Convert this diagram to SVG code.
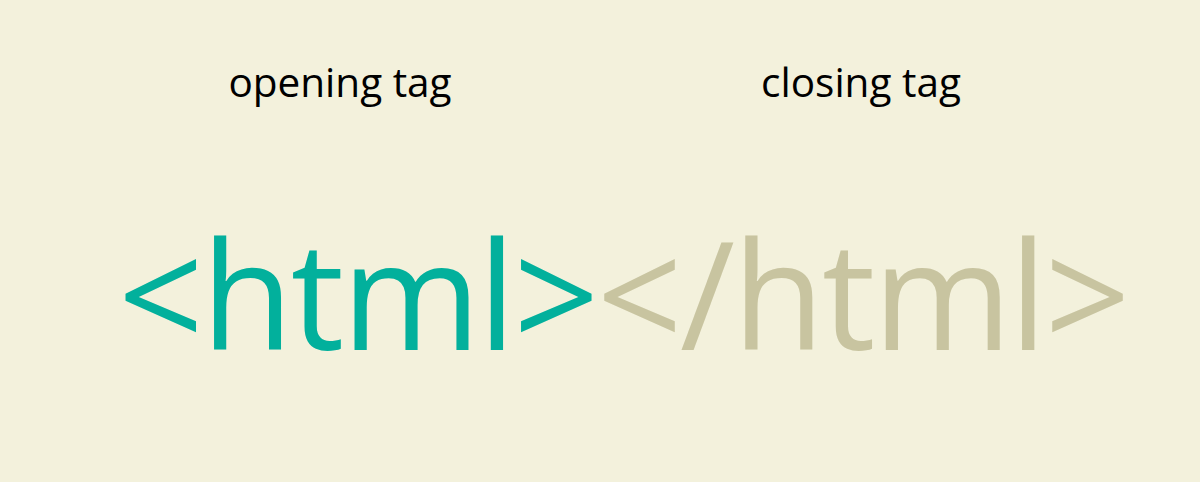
<svg xmlns="http://www.w3.org/2000/svg" width="1200" height="482" viewBox="0 0 1200 482">
  <style>
    .label { font-family: "Open Sans", sans-serif; font-size: 40.5px; fill: #000; text-anchor: middle; }
    .tag { font-family: "Open Sans", sans-serif; font-size: 150px; letter-spacing: -2.5px; }
    .open { fill: #02b09c; }
    .close { fill: #c8c4a0; }
  </style>
  <rect width="1200" height="482" fill="#f3f1dc"/>
  <g id="opening-label">
    <text class="label" x="340" y="97">opening tag</text>
  </g>
  <g id="closing-label">
    <text class="label" x="861" y="97">closing tag</text>
  </g>
  <g id="markup">
    <text class="tag" x="118" y="350"><tspan class="open">&lt;html&gt;</tspan><tspan class="close">&lt;/html&gt;</tspan></text>
  </g>
</svg>
